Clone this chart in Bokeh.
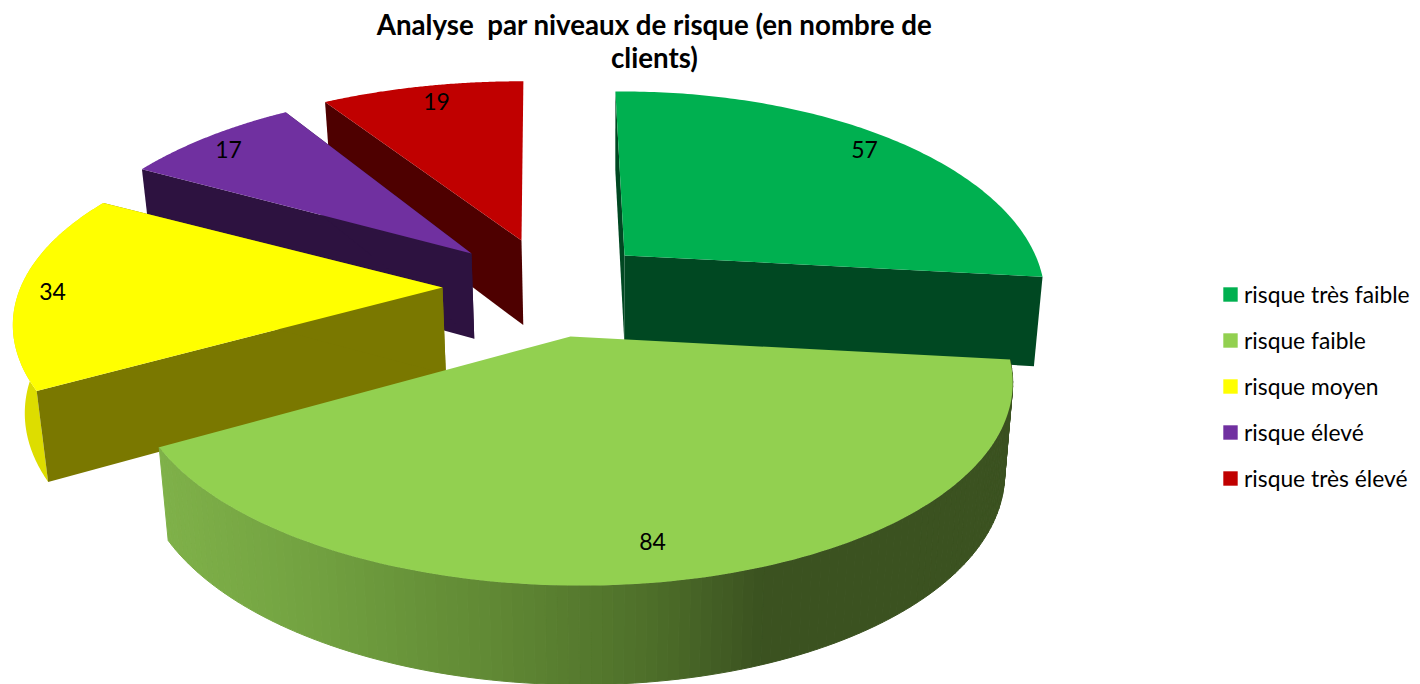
import numpy as np
from bokeh.plotting import figure
from bokeh.models import Legend, LegendItem
from bokeh.core.properties import value
from bokeh.embed import file_html
from bokeh.resources import INLINE

# ---- data
categories = ["risque très faible", "risque faible", "risque moyen", "risque élevé", "risque très élevé"]
counts = [57, 84, 34, 17, 19]
title_text = "Analyse \u00a0par niveaux de risque (en nombre de\nclients)"

# ---- colours
top_colors = ["#00b050", "#92d050", "#ffff00", "#7030a0", "#c00000"]
cut_colors = ["#004822", "#3b5220", "#7a7800", "#2d1240", "#4e0000"]
yellow_wall = "#dddd00"

# ---- layout of the exploded, tilted pie (pixel space of the page)
first_angle = -1.2
apex_x = [624, 570, 442, 471, 521]
apex_y = [255, 336, 287, 253, 240]
radius_x = [411, 431, 422, 414, 434]
radius_y = [197.8, 197.8, 192, 197.8, 192]
turn = [0, 0.5, 1.6, 0.5, 1.5]
skew = [0.012, 0.04, 0.04, -0.05, 0]
lean = [0.008, 0, 0, 0, 0]
cut_sides = [(0, -1), (), (0, -1), (0, -1), (0,)]
tilt = 0.206
label_dx = [240, 82, -390, -243, -85]
label_dy = [-106, 205, 4, -104, -139]
draw_order = [4, 3, 2, 0, 1]
W, H = 1420, 684

wall_stops_x = [160, 300, 500, 650, 760, 1100]
wall_stops = [(0x80, 0xb2, 0x4a), (0x74, 0xa4, 0x42), (0x60, 0x88, 0x34), (0x4e, 0x6f, 0x2a), (0x3b, 0x52, 0x20), (0x3b, 0x52, 0x20)]


def project(i, th):
    th = np.radians(th)
    s = 1.0 / (1.0 + tilt * np.cos(th))
    dy = -radius_y[i] * np.cos(th) * s
    return apex_x[i] + radius_x[i] * np.sin(th) * s + skew[i] * dy, apex_y[i] + dy


def drop(i, x, y):
    d = 85 + (y - 250) * 0.042 + lean[i] * (x - apex_x[i])
    return 610 + (x - 610) * 0.98, y + d


p = figure(width=W, height=H, x_range=(0, W), y_range=(H, 0), toolbar_location=None,
           output_backend="svg", min_border=0, outline_line_color=None, background_fill_color="white")
p.axis.visible = False
p.grid.visible = False

edges = first_angle + np.concatenate([[0], np.cumsum(counts)]) * 360.0 / sum(counts)
tops = {}
for i in draw_order:
    a0, a1 = edges[i] + turn[i], edges[i + 1] + turn[i]
    th = np.linspace(a0, a1, 121)
    ax, ay = project(i, th)
    bx, by = drop(i, ax, ay)
    cx, cy = float(apex_x[i]), float(apex_y[i])
    cbx, cby = drop(i, np.array(cx), np.array(cy))
    cbx, cby = float(cbx), float(cby)
    # outer wall: only the two slices whose rim faces the viewer
    if i == 1:
        for k in range(len(th) - 1):
            xm = (bx[k] + bx[k + 1]) / 2
            c = [int(np.interp(xm, wall_stops_x, [s[j] for s in wall_stops])) for j in range(3)]
            col = "#%02x%02x%02x" % tuple(c)
            p.patch([ax[k], ax[k + 1], bx[k + 1], bx[k]], [ay[k], ay[k + 1], by[k + 1], by[k]],
                    fill_color=col, line_color=col, line_width=1)
    elif i == 2:
        p.patch(list(ax) + list(bx[::-1]), list(ay) + list(by[::-1]),
                fill_color=yellow_wall, line_color=None)
    # radial cut faces that face the viewer
    for e in cut_sides[i]:
        p.patch([cx, ax[e], bx[e], cbx], [cy, ay[e], by[e], cby], fill_color=cut_colors[i], line_color=None)
    # top face
    tops[i] = p.patch([cx] + list(ax), [cy] + list(ay), fill_color=top_colors[i], line_color=None)

p.text([apex_x[i] + label_dx[i] for i in range(5)], [apex_y[i] + label_dy[i] for i in range(5)],
       text=[str(c) for c in counts], text_font=value("Lato"), text_font_size="23px", text_color="#000000",
       text_align="center", text_baseline="middle")

p.text([654], [7], text=[title_text], text_font=value("Lato"), text_font_size="27.7px", text_font_style="bold",
       text_color="#000000", text_align="center", text_baseline="top", text_line_height=1.0)

legend = Legend(items=[LegendItem(label=categories[i], renderers=[tops[i]]) for i in range(5)],
                location=(1221, 192), orientation="vertical", glyph_width=18, glyph_height=18,
                label_standoff=5, spacing=18, padding=0, margin=0, border_line_color=None,
                background_fill_alpha=0, label_text_font="Lato", label_text_font_size="22.8px",
                label_text_color="#000000", label_height=20)
p.add_layout(legend, "center")

open("out.html", "w").write(file_html(p, INLINE))
